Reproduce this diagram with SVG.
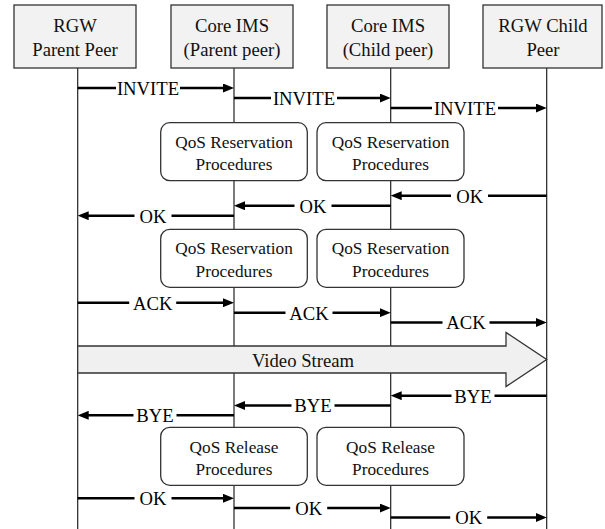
<svg xmlns="http://www.w3.org/2000/svg" width="605" height="529" viewBox="0 0 605 529">
<style>
  text { font-family: 'Liberation Serif', Tinos, 'Times New Roman', Times, 'DejaVu Serif', serif; fill: #111; text-anchor: middle; }
  .hdr rect { fill: #f2f2f2; stroke: #333; stroke-width: 1.3; }
  .hdr text { font-size: 18.67px; }
  .proc rect { fill: #fff; stroke: #333; stroke-width: 1.3; }
  .proc text { font-size: 17.3px; }
  .life { stroke: #222; stroke-width: 1.2; fill: none; }
  .msg { stroke: #000; stroke-width: 2.6; fill: none; marker-end: url(#ah); }
  .gap { fill: #fff; }
  .lbl { font-size: 18.67px; fill: #000; }
  .stream polygon { fill: #f0f0f0; stroke: #333; stroke-width: 1.3; }
  .stream text { font-size: 18.67px; }
</style>
<defs>
  <marker id="ah" markerUnits="userSpaceOnUse" markerWidth="11" markerHeight="9" viewBox="0 0 11 9" refX="3" refY="4.5" orient="auto">
    <path d="M0,0 L11,4.5 L0,9 z" fill="#000"/>
  </marker>
</defs>
<rect width="605" height="529" fill="#fff"/>

<g id="lifelines">
  <line class="life" x1="77.7" y1="68" x2="77.7" y2="529"/>
  <line class="life" x1="234" y1="68" x2="234" y2="529"/>
  <line class="life" x1="390.7" y1="68" x2="390.7" y2="529"/>
  <line class="life" x1="546.7" y1="68" x2="546.7" y2="529"/>
</g>

<g id="rgw-parent" class="hdr">
  <rect x="14" y="5" width="122" height="63"/>
  <text x="75" y="31.5">RGW</text>
  <text x="75" y="56">Parent Peer</text>
</g>
<g id="ims-parent" class="hdr">
  <rect x="171" y="5" width="122" height="63"/>
  <text x="232" y="31.5">Core IMS</text>
  <text x="232" y="56">(Parent peer)</text>
</g>
<g id="ims-child" class="hdr">
  <rect x="327" y="5" width="122" height="63"/>
  <text x="388" y="31.5">Core IMS</text>
  <text x="388" y="56">(Child peer)</text>
</g>
<g id="rgw-child" class="hdr">
  <rect x="483" y="5" width="119" height="63"/>
  <text x="543" y="31.5">RGW Child</text>
  <text x="543" y="56">Peer</text>
</g>

<g id="qos-res-1a" class="proc">
  <rect x="160.7" y="122.7" width="146.6" height="58" rx="9"/>
  <text x="234" y="147.5">QoS Reservation</text>
  <text x="234" y="170">Procedures</text>
</g>
<g id="qos-res-1b" class="proc">
  <rect x="317" y="122.7" width="147" height="58" rx="9"/>
  <text x="390.5" y="147.5">QoS Reservation</text>
  <text x="390.5" y="170">Procedures</text>
</g>
<g id="qos-res-2a" class="proc">
  <rect x="160.7" y="229.3" width="146.6" height="58" rx="9"/>
  <text x="234" y="254.1">QoS Reservation</text>
  <text x="234" y="276.6">Procedures</text>
</g>
<g id="qos-res-2b" class="proc">
  <rect x="317" y="229.3" width="147" height="58" rx="9"/>
  <text x="390.5" y="254.1">QoS Reservation</text>
  <text x="390.5" y="276.6">Procedures</text>
</g>
<g id="qos-rel-a" class="proc">
  <rect x="160.7" y="427.3" width="146.6" height="58" rx="9"/>
  <text x="234" y="452.6">QoS Release</text>
  <text x="234" y="475">Procedures</text>
</g>
<g id="qos-rel-b" class="proc">
  <rect x="317" y="427.3" width="147" height="58" rx="9"/>
  <text x="390.5" y="452.6">QoS Release</text>
  <text x="390.5" y="475">Procedures</text>
</g>

<g id="video-stream" class="stream">
  <polygon points="77.7,346 506,346 506,332.5 546.7,359.5 506,386.5 506,373 77.7,373"/>
  <text x="303" y="367">Video Stream</text>
</g>

<g id="connectors">
  <line class="msg" x1="77.7" y1="88" x2="226" y2="88"/>
  <rect class="gap" x="116" y="84" width="64" height="8"/>
  <text class="lbl" x="148" y="94.8">INVITE</text>
  <line class="msg" x1="234" y1="98" x2="382.7" y2="98"/>
  <rect class="gap" x="271" y="94" width="66" height="8"/>
  <text class="lbl" x="304" y="104.8">INVITE</text>
  <line class="msg" x1="390.7" y1="108" x2="538.7" y2="108"/>
  <rect class="gap" x="432" y="104" width="66" height="8"/>
  <text class="lbl" x="465" y="114.8">INVITE</text>

  <line class="msg" x1="546.7" y1="195.7" x2="398.7" y2="195.7"/>
  <rect class="gap" x="451" y="191.7" width="37" height="8"/>
  <text class="lbl" x="469.7" y="202.5">OK</text>
  <line class="msg" x1="390.7" y1="205.7" x2="242" y2="205.7"/>
  <rect class="gap" x="294.5" y="201.7" width="37" height="8"/>
  <text class="lbl" x="313" y="212.5">OK</text>
  <line class="msg" x1="234" y1="215.7" x2="85.7" y2="215.7"/>
  <rect class="gap" x="134.5" y="211.7" width="37" height="8"/>
  <text class="lbl" x="153" y="222.5">OK</text>

  <line class="msg" x1="77.7" y1="302.7" x2="226" y2="302.7"/>
  <rect class="gap" x="129.2" y="298.7" width="47" height="8"/>
  <text class="lbl" x="152.7" y="309.5">ACK</text>
  <line class="msg" x1="234" y1="312.7" x2="382.7" y2="312.7"/>
  <rect class="gap" x="285.5" y="308.7" width="47" height="8"/>
  <text class="lbl" x="309" y="319.5">ACK</text>
  <line class="msg" x1="390.7" y1="322.5" x2="538.7" y2="322.5"/>
  <rect class="gap" x="442.5" y="318.5" width="47" height="8"/>
  <text class="lbl" x="466" y="329.3">ACK</text>

  <line class="msg" x1="546.7" y1="395.7" x2="398.7" y2="395.7"/>
  <rect class="gap" x="451.5" y="391.7" width="43" height="8"/>
  <text class="lbl" x="473" y="402.5">BYE</text>
  <line class="msg" x1="390.7" y1="405.5" x2="242" y2="405.5"/>
  <rect class="gap" x="291.5" y="401.5" width="43" height="8"/>
  <text class="lbl" x="313" y="412.3">BYE</text>
  <line class="msg" x1="234" y1="415.3" x2="85.7" y2="415.3"/>
  <rect class="gap" x="133.5" y="411.3" width="43" height="8"/>
  <text class="lbl" x="155" y="422.1">BYE</text>

  <line class="msg" x1="77.7" y1="498.3" x2="226" y2="498.3"/>
  <rect class="gap" x="134.5" y="494.3" width="37" height="8"/>
  <text class="lbl" x="153" y="505.1">OK</text>
  <line class="msg" x1="234" y1="508" x2="382.7" y2="508"/>
  <rect class="gap" x="290.2" y="504" width="37" height="8"/>
  <text class="lbl" x="308.7" y="514.8">OK</text>
  <line class="msg" x1="390.7" y1="517.5" x2="538.7" y2="517.5"/>
  <rect class="gap" x="450.2" y="513.5" width="37" height="8"/>
  <text class="lbl" x="468.7" y="524.3">OK</text>
</g>
</svg>
